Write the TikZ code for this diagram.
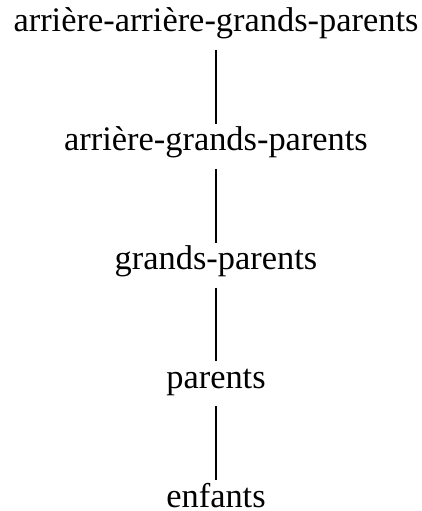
\documentclass[tikz,border=0pt]{standalone}
\usepackage{fontspec}
\setmainfont{Liberation Serif}
\begin{document}
\begin{tikzpicture}[x=1pt,y=1pt,
  gen/.style={anchor=base, inner sep=0pt, outer sep=0pt, text height=27pt, text depth=18pt, font=\fontsize{34.4}{40}\selectfont},
  link/.style={line width=1.3pt}]
\useasboundingbox (0,0) rectangle (421,-511);
\node[gen] (g4) at (216,-32) {arrière-arrière-grands-parents};
\node[gen] (g3) at (216,-150.75) {arrière-grands-parents};
\node[gen] (g2) at (216,-269.5) {grands-parents};
\node[gen] (g1) at (216,-388.25) {parents};
\node[gen] (g0) at (216,-507) {enfants};
\draw[link] (g4.south) -- (g3.north);
\draw[link] (g3.south) -- (g2.north);
\draw[link] (g2.south) -- (g1.north);
\draw[link] (g1.south) -- (g0.north);
\end{tikzpicture}
\end{document}
